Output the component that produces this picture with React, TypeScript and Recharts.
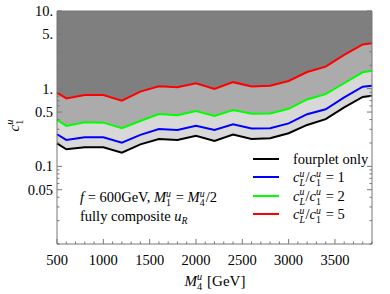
import React from 'react'
import { ComposedChart, Area, Line, XAxis, YAxis } from 'recharts'

// heavy vector-like partner mass M_4^u [GeV]
const masses = [500, 600, 800, 1000, 1200, 1400, 1600, 1800, 2000, 2200, 2400, 2600, 2800, 3000, 3200, 3400, 3600, 3800, 3900]

// lower bounds on c_1^u
const fourplet = [0.198, 0.166, 0.176, 0.176, 0.15, 0.192, 0.225, 0.219, 0.248, 0.212, 0.256, 0.225, 0.23, 0.267, 0.341, 0.405, 0.573, 0.782, 0.81]
const ratio1 = [0.259, 0.219, 0.237, 0.237, 0.202, 0.254, 0.303, 0.294, 0.334, 0.294, 0.348, 0.308, 0.309, 0.357, 0.469, 0.543, 0.771, 1.062, 1.094]
const ratio2 = [0.396, 0.331, 0.37, 0.365, 0.309, 0.384, 0.472, 0.455, 0.516, 0.446, 0.532, 0.477, 0.478, 0.551, 0.726, 0.849, 1.174, 1.626, 1.7]
const ratio5 = [0.888, 0.748, 0.83, 0.83, 0.701, 0.915, 1.074, 1.042, 1.174, 0.991, 1.213, 1.067, 1.094, 1.256, 1.64, 1.92, 2.72, 3.71, 3.84]

const xLabels = [500, 1000, 1500, 2000, 2500, 3000, 3500]
const yLabels = [0.05, 0.1, 0.5, 1, 5, 10]
const yLabelText: Record<string, string> = { '0.05': '0.05', '0.1': '0.1', '0.5': '0.5', '1': '1.', '5': '5.', '10': '10.' }

const X_MIN = 500
const X_MAX = 3900
const Y_MIN = 0.01
const Y_MAX = 10

const xTicks: number[] = []
for (let m = X_MIN; m <= X_MAX; m += 100) xTicks.push(m)
const yTicks: number[] = []
for (const dec of [0.01, 0.1, 1]) {
  for (let k = 1; k <= 9; k++) yTicks.push(+(k * dec).toFixed(3))
}
yTicks.push(10)

const data = masses.map((m, i) => ({
  m,
  fourplet: fourplet[i],
  r1: ratio1[i],
  r2: ratio2[i],
  r5: ratio5[i],
}))

const FRAME = '#777'
const FONT = '"Liberation Serif", "Times New Roman", serif'

const BottomTick = (props: any) => {
  const { x, y, payload } = props
  const major = xLabels.includes(payload.value)
  return (
    <g>
      <line x1={x} x2={x} y1={y} y2={y - (major ? 5 : 2.5)} stroke={FRAME} />
      {major && (
        <text x={x} y={y + 21} textAnchor="middle" fontSize={14.5} fontFamily={FONT} fill="#000">
          {payload.value}
        </text>
      )}
    </g>
  )
}

const TopTick = (props: any) => {
  const { x, y, payload } = props
  const major = xLabels.includes(payload.value)
  return <line x1={x} x2={x} y1={y} y2={y + (major ? 5 : 2.5)} stroke={FRAME} />
}

const LeftTick = (props: any) => {
  const { x, y, payload } = props
  const major = yLabels.includes(payload.value)
  return (
    <g>
      <line x1={x} x2={x + (major ? 5 : 2.5)} y1={y} y2={y} stroke={FRAME} />
      {major && (
        <text x={x - 4} y={y} dy="0.35em" textAnchor="end" fontSize={14.5} fontFamily={FONT} fill="#000">
          {yLabelText[String(payload.value)]}
        </text>
      )}
    </g>
  )
}

const RightTick = (props: any) => {
  const { x, y, payload } = props
  const major = yLabels.includes(payload.value)
  return <line x1={x} x2={x - (major ? 5 : 2.5)} y1={y} y2={y} stroke={FRAME} />
}

// stacked sub/superscript, as in c_1^u
function SubSup({ sub, sup }: { sub: React.ReactNode; sup: React.ReactNode }) {
  return (
    <span style={{ display: 'inline-block', position: 'relative', width: '0.42em', height: '0.7em' }}>
      <span style={{ position: 'absolute', left: 0, top: '-0.24em', fontSize: '0.68em', lineHeight: 0.8 }}>{sup}</span>
      <span style={{ position: 'absolute', left: 0, top: '0.72em', fontSize: '0.68em', lineHeight: 0.8 }}>{sub}</span>
    </span>
  )
}

const ratioLabel = (n: number) => (
  <span>
    <i>c</i>
    <SubSup sub={<i>L</i>} sup={<i>u</i>} />/<i>c</i>
    <SubSup sub="1" sup={<i>u</i>} /> = {n}
  </span>
)

const legendRows = [
  { color: '#000000', label: <span>fourplet only</span> },
  { color: '#0000ff', label: ratioLabel(1) },
  { color: '#00ff00', label: ratioLabel(2) },
  { color: '#ff0000', label: ratioLabel(5) },
]

export default function App() {
  return (
    <div
      style={{
        position: 'absolute',
        left: 0,
        top: 0,
        width: 390,
        height: 294,
        background: '#fff',
        fontFamily: FONT,
        color: '#000',
      }}
    >
      <ComposedChart width={390} height={294} data={data} margin={{ top: 10, right: 17, bottom: 49, left: 56 }}>
        <XAxis
          dataKey="m"
          type="number"
          domain={[X_MIN, X_MAX]}
          ticks={xTicks}
          interval={0}
          height={1}
          tickSize={0}
          tickMargin={0}
          tickLine={false}
          axisLine={{ stroke: FRAME }}
          tick={<BottomTick />}
        />
        <XAxis
          xAxisId="top"
          orientation="top"
          type="number"
          domain={[X_MIN, X_MAX]}
          ticks={xTicks}
          interval={0}
          height={1}
          tickSize={0}
          tickMargin={0}
          tickLine={false}
          axisLine={{ stroke: FRAME }}
          tick={<TopTick />}
        />
        <YAxis
          scale="log"
          type="number"
          domain={[Y_MIN, Y_MAX]}
          allowDataOverflow
          ticks={yTicks}
          interval={0}
          width={1}
          tickSize={0}
          tickMargin={0}
          tickLine={false}
          axisLine={{ stroke: FRAME }}
          tick={<LeftTick />}
        />
        <YAxis
          yAxisId="right"
          orientation="right"
          scale="log"
          type="number"
          domain={[Y_MIN, Y_MAX]}
          allowDataOverflow
          ticks={yTicks}
          interval={0}
          width={1}
          tickSize={0}
          tickMargin={0}
          tickLine={false}
          axisLine={{ stroke: FRAME }}
          tick={<RightTick />}
        />
        <Area type="linear" dataKey={(d: any) => [d.r5, Y_MAX]} stroke="none" fill="#7f7f7f" fillOpacity={1} isAnimationActive={false} />
        <Area type="linear" dataKey={(d: any) => [d.r2, d.r5]} stroke="none" fill="#ababab" fillOpacity={1} isAnimationActive={false} />
        <Area type="linear" dataKey={(d: any) => [d.fourplet, d.r2]} stroke="none" fill="#d8d8d8" fillOpacity={1} isAnimationActive={false} />
        <Line type="linear" dataKey="fourplet" stroke="#000000" strokeWidth={2} dot={false} isAnimationActive={false} />
        <Line type="linear" dataKey="r1" stroke="#0000ff" strokeWidth={2} dot={false} isAnimationActive={false} />
        <Line type="linear" dataKey="r2" stroke="#00ff00" strokeWidth={2} dot={false} isAnimationActive={false} />
        <Line type="linear" dataKey="r5" stroke="#ff0000" strokeWidth={2} dot={false} isAnimationActive={false} />
      </ComposedChart>

      {/* y axis title */}
      <div
        style={{
          position: 'absolute',
          left: 14,
          top: 125,
          transform: 'translate(-50%, -50%) rotate(-90deg)',
          fontSize: 15,
          lineHeight: '18px',
          whiteSpace: 'nowrap',
        }}
      >
        <i>c</i>
        <SubSup sub="1" sup={<i>u</i>} />
      </div>

      {/* x axis title */}
      <div
        style={{
          position: 'absolute',
          left: 215,
          top: 281,
          transform: 'translate(-50%, -50%)',
          fontSize: 15,
          lineHeight: '18px',
          whiteSpace: 'nowrap',
        }}
      >
        <i>M</i>
        <SubSup sub="4" sup={<i>u</i>} /> [GeV]
      </div>

      {/* annotations */}
      <div style={{ position: 'absolute', left: 80, top: 189, fontSize: 14.5, lineHeight: '16px', whiteSpace: 'nowrap' }}>
        <i>f</i> = 600GeV, <i>M</i>
        <SubSup sub="1" sup={<i>u</i>} /> = <i>M</i>
        <SubSup sub="4" sup={<i>u</i>} />/2
      </div>
      <div style={{ position: 'absolute', left: 80, top: 208, fontSize: 14.5, lineHeight: '16px', whiteSpace: 'nowrap' }}>
        fully composite <i>u</i>
        <span style={{ fontSize: '0.68em', position: 'relative', top: '0.35em' }}>
          <i>R</i>
        </span>
      </div>

      {/* legend */}
      {legendRows.map((row, i) => (
        <div key={i} style={{ position: 'absolute', left: 253, top: 159 + i * 18.4 - 8, height: 16, whiteSpace: 'nowrap' }}>
          <div style={{ position: 'absolute', left: 0, top: 7, width: 26, height: 2, background: row.color }} />
          <div style={{ position: 'absolute', left: 40, top: 0, fontSize: 14.5, lineHeight: '16px' }}>{row.label}</div>
        </div>
      ))}
    </div>
  )
}
